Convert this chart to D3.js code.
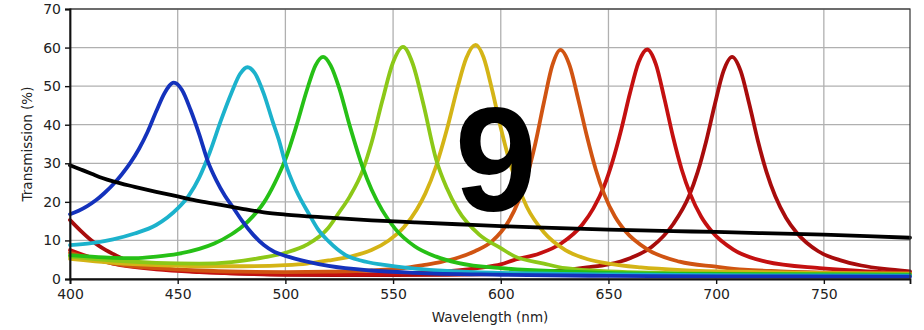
<!DOCTYPE html>
<html lang="en">
<head>
<meta charset="utf-8">
<script src="https://d3js.org/d3.v7.min.js"></script>
<style>
  body { margin: 0; background: #fff; }
  svg { display: block; }
  .tick text { font-family: "DejaVu Sans", sans-serif; font-size: 14px; fill: #222; }
</style>
</head>
<body>
<svg id="chart" width="924" height="330"></svg>
<script>

// ticks
var xTicks = [400, 450, 500, 550, 600, 650, 700, 750];
var yTicks = [0, 10, 20, 30, 40, 50, 60, 70];

// transmission curves, [wavelength nm, transmission %]
var blue = [[400,16.8],[404,17.7],[408,18.9],[412,20.4],[416,22.3],[420,24.5],[424,27.1],[428,30.1],[432,33.7],[436,38.1],[440,43.4],[444,48.3],[448.2,50.9],[452,49.0],[456,43.8],[460,37.5],[464,30.5],[468,25.5],[472,21.5],[476,18.3],[480,15.0],[485,11.5],[490,8.8],[495,7.0],[500,6.0],[510,4.5],[520,3.4],[540,2.2],[560,1.6],[600,1.1],[650,0.8],[700,0.7],[790,0.6]];
var cyan = [[400,8.8],[410,9.3],[420,10.3],[430,11.8],[440,14.0],[450,18.3],[455,21.5],[460,26.3],[465,33.0],[470,41.0],[475,48.3],[479,53.2],[482.4,54.9],[486,53.2],[490,48.0],[494,41.0],[497,36.0],[500,30.0],[505,23.0],[511,16.8],[515,13.0],[520,9.8],[528,6.2],[535,4.8],[545,3.7],[560,2.7],[600,1.6],[650,1.2],[700,1.0],[790,0.9]];
var green = [[400,6.2],[410,5.8],[420,5.5],[430,5.4],[440,5.8],[450,6.5],[460,7.8],[467,9.2],[475,11.6],[480,13.6],[485,16.3],[490,19.8],[495,24.8],[500,31.0],[505,39.5],[510,49.0],[514,55.4],[517.5,57.6],[521,55.4],[525,49.5],[530,39.5],[536,28.8],[540,23.2],[545,17.8],[551,13.0],[560,8.5],[570,5.8],[580,4.2],[600,2.8],[650,1.6],[700,1.3],[790,1.1]];
var lime = [[400,5.8],[420,4.8],[440,4.2],[460,4.0],[475,4.4],[490,5.6],[500,6.8],[510,8.9],[520,13.3],[525,17.3],[530,21.5],[536,28.3],[540,35.3],[545,46.2],[550,56.2],[554.6,60.2],[559,56.0],[564,45.5],[570,31.0],[575,23.5],[580,18.0],[590,11.5],[600,8.0],[606,6.0],[620,4.0],[630,2.8],[650,2.0],[700,1.4],[790,1.1]];
var yellow = [[400,5.2],[420,4.2],[440,3.6],[460,3.3],[480,3.3],[500,3.6],[510,4.0],[520,4.8],[530,5.8],[540,7.5],[548,10.0],[555,13.4],[561,18.0],[565,22.2],[570,29.3],[575,38.8],[580,49.8],[584,57.3],[588.3,60.7],[592,57.5],[596,49.0],[600,39.2],[605,28.7],[612,18.8],[620,12.1],[630,7.5],[640,5.2],[650,4.0],[665,3.0],[684,2.3],[720,1.8],[790,1.4]];
var orange = [[400,6.8],[420,4.0],[440,2.8],[460,2.2],[480,1.9],[500,1.8],[520,1.9],[540,2.2],[555,2.8],[564,3.6],[572,4.4],[580,5.5],[588,7.2],[596,9.8],[604,15.3],[608,19.9],[612,26.3],[616,35.0],[620,45.7],[624,55.5],[627.7,59.4],[632,55.3],[636,46.5],[640,37.0],[644,28.6],[648,22.0],[653,16.2],[658,12.3],[668,7.7],[683,4.5],[700,3.2],[713,2.4],[730,2.0],[760,1.6],[790,1.4]];
var red = [[400,7.5],[410,5.5],[420,4.0],[440,2.5],[460,1.8],[480,1.4],[500,1.2],[530,1.2],[560,1.6],[580,2.2],[590,2.9],[600,3.8],[606,4.9],[618,6.6],[628,9.2],[638,14.2],[643,18.3],[648,24.1],[652,30.7],[656,38.9],[660,48.2],[664,56.2],[668,59.5],[672,55.7],[676,46.7],[680,36.8],[684,28.4],[688,22.0],[693,16.2],[698,12.3],[708,7.6],[723,4.5],[748,2.8],[770,2.0],[790,1.6]];
var darkred = [[400,15.3],[405,12.5],[410,10.0],[414,8.4],[420,6.5],[429,4.2],[440,3.0],[450,2.3],[470,1.6],[500,1.1],[550,1.0],[600,1.3],[620,1.8],[640,3.0],[650,3.8],[660,5.4],[670,8.3],[680,14.2],[687.4,21.5],[691.4,27.7],[695.4,35.8],[699.4,45.3],[703.4,53.9],[707.4,57.6],[711.4,53.9],[715.4,45.3],[719.4,35.8],[723.4,27.7],[727.4,21.5],[732.4,15.9],[737.4,12.0],[747.4,7.2],[757.4,4.9],[767.4,3.5],[778,2.6],[790,2.0]];
var reference = [[400,29.5],[405,28.4],[410,27.3],[415,26.2],[420,25.3],[430,23.9],[440,22.6],[450,21.4],[460,20.2],[470,19.2],[480,18.2],[490,17.3],[500,16.7],[520,15.9],[540,15.2],[560,14.7],[580,14.2],[600,13.7],[620,13.3],[650,12.8],[680,12.4],[700,12.2],[720,11.9],[750,11.5],[770,11.1],[790,10.7]];

var series = [
  {data: darkred, color: "#a80c0c"},
  {data: red, color: "#c41010"},
  {data: orange, color: "#d05412"},
  {data: yellow, color: "#d4b416"},
  {data: lime, color: "#8cc818"},
  {data: green, color: "#26c016"},
  {data: cyan, color: "#1cb2cc"},
  {data: blue, color: "#1432bc"},
  {data: reference, color: "#000000"}
];

var margin = {top: 9, right: 14, bottom: 51, left: 70};
var W = 924, H = 330;
var w = W - margin.left - margin.right;
var h = H - margin.top - margin.bottom;

var svg = d3.select("#chart");
svg.append("rect").attr("width", W).attr("height", H).attr("fill", "#fff");

var g = svg.append("g").attr("transform", "translate(" + margin.left + "," + margin.top + ")");

var x = d3.scaleLinear().domain([400, 790]).range([0, w]);
var y = d3.scaleLinear().domain([0, 70]).range([h, 0]);

// grid
g.append("g")
  .selectAll("line.vx")
  .data(xTicks)
  .enter().append("line")
  .attr("x1", d => x(d)).attr("x2", d => x(d))
  .attr("y1", 0).attr("y2", h)
  .attr("stroke", "#b0b0b0").attr("stroke-width", 1.3);
g.append("g")
  .selectAll("line.hy")
  .data(yTicks)
  .enter().append("line")
  .attr("x1", 0).attr("x2", w)
  .attr("y1", d => y(d)).attr("y2", d => y(d))
  .attr("stroke", "#b0b0b0").attr("stroke-width", 1.3);

// curves
var line = d3.line()
  .x(d => x(d[0]))
  .y(d => y(d[1]))
  .curve(d3.curveMonotoneX);

g.append("g")
  .selectAll("path")
  .data(series)
  .enter().append("path")
  .attr("d", d => line(d.data))
  .attr("fill", "none")
  .attr("stroke", d => d.color)
  .attr("stroke-width", 3.8)
  .attr("stroke-linejoin", "round")
  .attr("stroke-linecap", "round");

// frame
g.append("rect")
  .attr("x", 0).attr("y", 0).attr("width", w).attr("height", h)
  .attr("fill", "none").attr("stroke", "#333").attr("stroke-width", 1.2);

// axes
var xAxis = g.append("g")
  .attr("transform", "translate(0," + h + ")")
  .call(d3.axisBottom(x).tickValues(xTicks).tickSize(5).tickPadding(5));
var yAxis = g.append("g")
  .call(d3.axisLeft(y).tickValues(yTicks).tickSize(5).tickPadding(4));

[xAxis, yAxis].forEach(function(a) {
  a.select(".domain").attr("stroke", "#111").attr("stroke-width", 1.8);
  a.selectAll(".tick line").attr("stroke", "#111").attr("stroke-width", 1.4);
});

// labels
svg.append("text")
  .attr("x", margin.left + w / 2).attr("y", 322)
  .attr("text-anchor", "middle")
  .attr("font-family", "DejaVu Sans, sans-serif")
  .attr("font-size", "13.5px")
  .attr("fill", "#222")
  .text("Wavelength (nm)");

svg.append("text")
  .attr("transform", "translate(32," + (margin.top + h / 2) + ") rotate(-90)")
  .attr("text-anchor", "middle")
  .attr("font-family", "DejaVu Sans, sans-serif")
  .attr("font-size", "13.5px")
  .attr("fill", "#222")
  .text("Transmission (%)");

// big overlay number
svg.append("text")
  .attr("x", 496).attr("y", 211)
  .attr("text-anchor", "middle")
  .attr("font-family", "Liberation Sans, Arial, sans-serif")
  .attr("font-weight", "bold")
  .attr("font-size", "148px")
  .attr("fill", "#000")
  .text("9");

</script>
</body>
</html>
